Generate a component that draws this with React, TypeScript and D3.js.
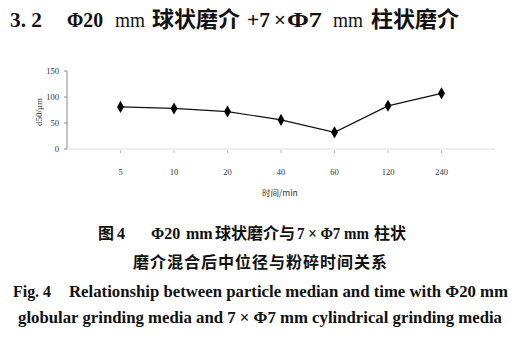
import React from "react";
import * as d3 from "d3";

// grinding time categories (min) and median particle size d50
const times = ["5", "10", "20", "40", "60", "120", "240"];
const d50 = [81, 78, 72, 56, 32, 83, 107];
const yTicks = [0, 50, 100, 150];

const W = 530;
const H = 351;
const serif = "'Liberation Serif', 'Times New Roman', serif";
const cjk = "'Noto Sans CJK SC', sans-serif";

export default function App() {
  // plot area
  const left = 67;
  const right = 495;
  const top = 71;
  const bottom = 149;

  // excel-like category axis: one empty slot on each side
  const x = d3.scaleLinear().domain([0, times.length + 1]).range([left, right]);
  const y = d3.scaleLinear().domain([0, 150]).range([bottom, top]);

  const line = d3
    .line<number>()
    .x((d, i) => x(i + 1))
    .y(d => y(d));

  const diamond = d3.symbol().type(d3.symbolDiamond).size(42)();

  return (
    <div style={{ position: "absolute", left: 0, top: 0 }}>
      <svg width={W} height={H} style={{ display: "block", background: "#fff" }}>
        {/* section heading */}
        <text y={27} fontSize={21} fill="#111">
          <tspan x={10} fontFamily={serif} fontWeight="bold" textLength={32} lengthAdjust="spacingAndGlyphs">3. 2</tspan>
          <tspan x={67} fontFamily={serif} fontWeight="bold" textLength={36} lengthAdjust="spacingAndGlyphs">Φ20</tspan>
          <tspan x={115} fontFamily={serif} textLength={30} lengthAdjust="spacingAndGlyphs">mm</tspan>
          <tspan x={152} fontFamily={cjk} fontWeight="bold" fontSize={22}>球状磨介</tspan>
          <tspan x={247} fontFamily={serif} fontWeight="bold" textLength={23} lengthAdjust="spacingAndGlyphs">+7</tspan>
          <tspan x={274} fontFamily={serif} fontWeight="bold">×</tspan>
          <tspan x={287} fontFamily={serif} fontWeight="bold" textLength={35} lengthAdjust="spacingAndGlyphs">Φ7</tspan>
          <tspan x={333} fontFamily={serif} textLength={30} lengthAdjust="spacingAndGlyphs">mm</tspan>
          <tspan x={371} fontFamily={cjk} fontWeight="bold" fontSize={22}>柱状磨介</tspan>
        </text>

        {/* y axis */}
        <line x1={left} x2={left} y1={top} y2={bottom} stroke="#888" strokeWidth={1} />
        {yTicks.map(t => (
          <g key={t}>
            <line x1={left - 3} x2={left} y1={y(t)} y2={y(t)} stroke="#888" />
            <text
              x={left - 8}
              y={y(t) + 3}
              textAnchor="end"
              fontFamily={serif}
              fontSize={8.5}
              fill="#333"
            >
              {t}
            </text>
          </g>
        ))}
        <text
          transform={`translate(42,${(top + bottom) / 2 + 2}) rotate(-90)`}
          textAnchor="middle"
          fontFamily={serif}
          fontSize={9}
          fill="#333"
        >
          d50/μm
        </text>

        {/* x axis */}
        <line x1={left} x2={right} y1={bottom} y2={bottom} stroke="#ddd" strokeWidth={1} />
        {times.map((t, i) => (
          <g key={t}>
            <line x1={x(i + 1)} x2={x(i + 1)} y1={bottom + 1} y2={bottom + 4} stroke="#bbb" />
            <text
              x={x(i + 1)}
              y={bottom + 26}
              textAnchor="middle"
              fontFamily={serif}
              fontSize={8.5}
              fill="#333"
            >
              {t}
            </text>
          </g>
        ))}
        <text x={262} y={196} fontFamily={cjk} fontSize={8.5} fill="#333">
          时间/min
        </text>

        {/* series */}
        <path d={line(d50) ?? ""} fill="none" stroke="#111" strokeWidth={1.2} />
        {d50.map((v, i) => (
          <path key={i} d={diamond ?? ""} transform={`translate(${x(i + 1)},${y(v)})`} fill="#000" />
        ))}

        {/* caption */}
        <text y={239} fontSize={16} fill="#111">
          <tspan x={98} fontFamily={cjk} fontWeight="bold">图</tspan>
          <tspan x={117} fontFamily={serif} fontWeight="bold">4</tspan>
          <tspan x={151} fontFamily={serif} fontWeight="bold">Φ20</tspan>
          <tspan x={186} fontFamily={serif} fontWeight="bold">mm</tspan>
          <tspan x={215} fontFamily={cjk} fontWeight="bold">球状磨介与</tspan>
          <tspan x={297} fontFamily={serif} fontWeight="bold" textLength={72} lengthAdjust="spacingAndGlyphs">
            7 × Φ7 mm
          </tspan>
          <tspan x={374} fontFamily={cjk} fontWeight="bold">柱状</tspan>
        </text>
        <text
          x={133}
          y={268}
          fontSize={16}
          fontFamily={cjk}
          fontWeight="bold"
          fill="#111"
          textLength={254}
          lengthAdjust="spacing"
        >
          磨介混合后中位径与粉碎时间关系
        </text>
        <text y={297} fontSize={17} fontFamily={serif} fontWeight="bold" fill="#111">
          <tspan x={13} textLength={38} lengthAdjust="spacingAndGlyphs">Fig. 4</tspan>
          <tspan x={69} textLength={439} lengthAdjust="spacingAndGlyphs">
            Relationship between particle median and time with Φ20 mm
          </tspan>
        </text>
        <text
          x={18}
          y={323}
          fontSize={17}
          fontFamily={serif}
          fontWeight="bold"
          fill="#111"
          textLength={484}
          lengthAdjust="spacingAndGlyphs"
        >
          globular grinding media and 7 × Φ7 mm cylindrical grinding media
        </text>
      </svg>
    </div>
  );
}
